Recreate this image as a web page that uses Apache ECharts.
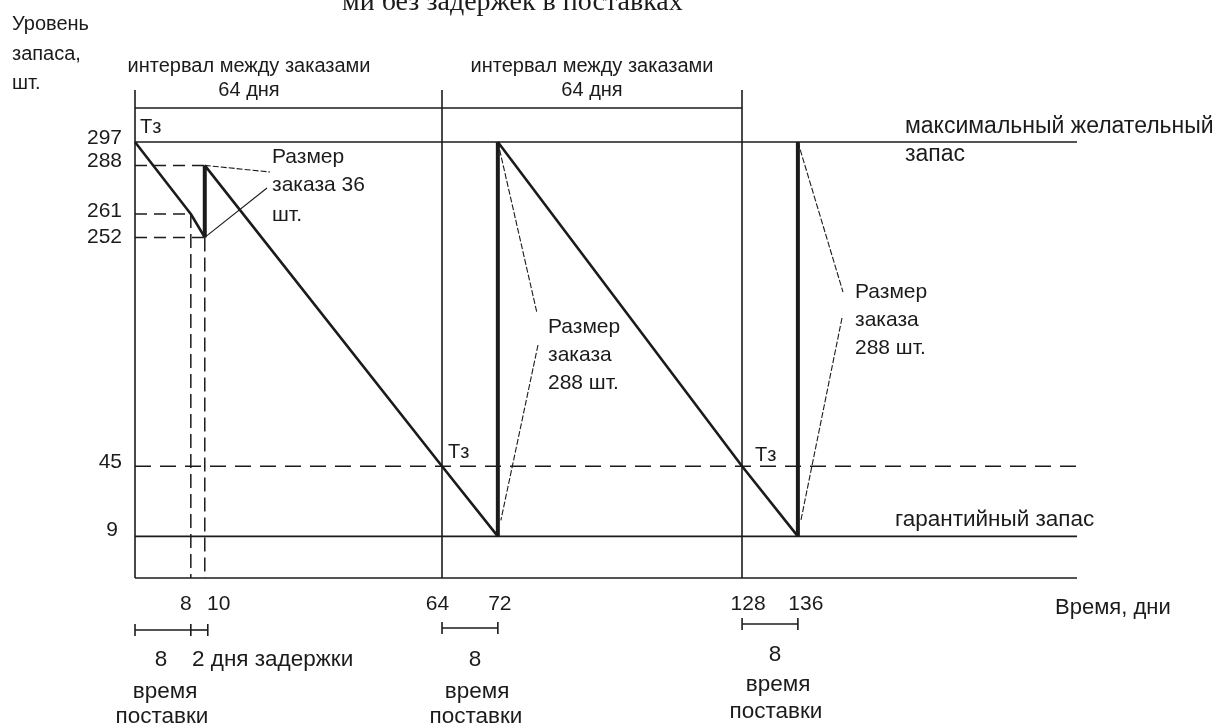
<!DOCTYPE html>
<html><head><meta charset="utf-8">
<script src="https://cdn.jsdelivr.net/npm/echarts@6/dist/echarts.min.js"></script>
<style>html,body{margin:0;padding:0;background:#fff}#c{width:1228px;height:727px}</style>
</head><body><div id="c"></div><script>
// ---------- data ----------
const cycle1Days = [0, 8, 10],    cycle1Stock = [297, 261, 252];
const cycle2Days = [10, 64, 72],  cycle2Stock = [288, 45, 9];
const cycle3Days = [72, 128, 136], cycle3Stock = [297, 45, 9];
const orderDays = [10, 72, 136], orderFromStock = [252, 9, 9], orderToStock = [288, 297, 297];
const maxStock = 297, reorderLevel = 45, safetyStock = 9;
const orderPlacedDays = [64, 128];
const xTickLabels = [8, 10, 64, 72, 128, 136];
const yTickLabels = [297, 288, 261, 252, 45, 9];
const deliverySpans = [[0, 8], [64, 72], [128, 136]];
const delaySpan = [8, 10];

// ---------- layout / style ----------
const X_MIN = 0, X_MAX = 176, Y_MIN = -7, Y_MAX = 317, BRACKET_LEVEL = 310;
const INK = '#1b1b1b', FONT = 'Liberation Sans, Arial, sans-serif';
// label nudges (padding) to mimic the hand-drawn label placement
const xLabelPad = { 8: [0, 10, 0, 0], 10: [0, 0, 0, 28], 64: [0, 9, 0, 0], 72: [0, 0, 0, 4], 128: [0, 0, 0, 12], 136: [0, 0, 0, 16] };
const yLabelPad = { 297: [0, 0, 8, 0], 288: [0, 0, 8, 0], 261: [0, 0, 6, 0], 252: [0, 0, 0, 0], 45: [0, 0, 8, 0], 9: [0, 4, 12, 0] };

function pairs(xs, ys) { return xs.map((x, i) => [x, ys[i]]); }
function lineSeries(data, width, type) {
  return { type: 'line', data, symbol: 'none', silent: true, animation: false, z: 3, clip: false,
    lineStyle: { color: INK, width, type: type || 'solid' } };
}

const series = [];
// axis lines (drawn as series so they stay continuous across the axis breaks)
series.push(lineSeries([[X_MIN, Y_MIN], [X_MAX, Y_MIN]], 1.6));
series.push(lineSeries([[X_MIN, Y_MIN], [X_MIN, Y_MAX]], 1.6));
const maxSeries = lineSeries([[X_MIN, maxStock], [X_MAX, maxStock]], 1.6);
maxSeries.markLine = {
  symbol: 'none', silent: true, animation: false, label: { show: false },
  lineStyle: { color: INK, width: 1.6, type: 'solid' },
  data: [
    { xAxis: orderPlacedDays[0] }, { xAxis: orderPlacedDays[1] },
    [{ coord: [X_MIN, BRACKET_LEVEL] }, { coord: [orderPlacedDays[1], BRACKET_LEVEL] }]
  ]
};
series.push(maxSeries);
series.push(lineSeries([[X_MIN, safetyStock], [X_MAX, safetyStock]], 1.6));
series.push(lineSeries([[X_MIN, reorderLevel], [X_MAX, reorderLevel]], 1.5, [16, 9]));
[pairs(cycle1Days, cycle1Stock), pairs(cycle2Days, cycle2Stock), pairs(cycle3Days, cycle3Stock)]
  .forEach(d => series.push(lineSeries(d, 2.6)));
orderDays.forEach((d, i) => series.push(lineSeries([[d, orderFromStock[i]], [d, orderToStock[i]]], 4)));
// guide dashes
series.push(lineSeries([[X_MIN, orderToStock[0]], [orderDays[0], orderToStock[0]]], 1.5, [12, 7]));
series.push(lineSeries([[X_MIN, cycle1Stock[1]], [cycle1Days[1], cycle1Stock[1]]], 1.5, [12, 7]));
series.push(lineSeries([[X_MIN, cycle1Stock[2]], [cycle1Days[2], cycle1Stock[2]]], 1.5, [12, 7]));
series.push(lineSeries([[cycle1Days[1], cycle1Stock[1]], [cycle1Days[1], Y_MIN]], 1.5, [14, 6]));
series.push(lineSeries([[cycle1Days[2], cycle1Stock[2]], [cycle1Days[2], Y_MIN]], 1.5, [14, 6]));

const breakArea = { show: false, itemStyle: { opacity: 0, borderWidth: 0 }, zigzagAmplitude: 0 };
function richFor(pads) {
  const r = {};
  Object.keys(pads).forEach(k => { r['v' + k] = { padding: pads[k], fontSize: 21, fontFamily: FONT, color: INK }; });
  return r;
}
const option = {
  backgroundColor: '#fff',
  animation: false,
  grid: { left: 135, right: 151, top: 90, bottom: 149, containLabel: false, outerBoundsMode: 'none' },
  xAxis: {
    type: 'value', min: X_MIN, max: X_MAX,
    breaks: [{ start: 12, end: 62, gap: 30 }, { start: 74, end: 126, gap: 31 }],
    breakArea,
    axisLine: { show: false },
    axisTick: { show: false }, splitLine: { show: false },
    axisLabel: { customValues: xTickLabels, hideOverlap: false, color: INK, fontFamily: FONT, fontSize: 21, margin: 16,
      formatter: v => '{v' + v + '|' + v + '}', rich: richFor(xLabelPad) }
  },
  yAxis: {
    type: 'value', min: Y_MIN, max: Y_MAX,
    breaks: [{ start: 12, end: 42, gap: 21 }, { start: 60, end: 240, gap: 61 }, { start: 264, end: 285, gap: 12.7 }],
    breakArea,
    axisLine: { show: false },
    axisTick: { show: false }, splitLine: { show: false },
    axisLabel: { customValues: yTickLabels, hideOverlap: false, color: INK, fontFamily: FONT, fontSize: 21, margin: 13,
      formatter: v => '{v' + v + '|' + v + '}', rich: richFor(yLabelPad) }
  },
  series
};

const chart = echarts.init(document.getElementById('c'));
chart.setOption(option);

// ---------- annotations ----------
const P = (x, y) => chart.convertToPixel({ gridIndex: 0 }, [x, y]);
function txt(text, x, y, align, size, extra) {
  return Object.assign({ type: 'text', x, y, silent: true, z: 10,
    style: Object.assign({ text, fill: INK, font: (size || 20) + 'px ' + FONT, textAlign: align || 'left', textVerticalAlign: 'middle' }, extra || {}) });
}
function ln(a, b, w, dash) {
  return { type: 'line', silent: true, z: 9, shape: { x1: a[0], y1: a[1], x2: b[0], y2: b[1] },
    style: { stroke: INK, lineWidth: w || 1.2, lineDash: dash || null } };
}
const g = [];
g.push(txt('ми без задержек в поставках', 342, 3, 'left', 28, { font: '28px Liberation Serif, Times New Roman, serif' }));
g.push(txt('Уровень', 12, 24)); g.push(txt('запаса,', 12, 54)); g.push(txt('шт.', 12, 83));
g.push(txt('интервал между заказами', 249, 66, 'center')); g.push(txt('64 дня', 249, 90, 'center'));
g.push(txt('интервал между заказами', 592, 66, 'center')); g.push(txt('64 дня', 592, 90, 'center'));
g.push(txt('Тз', 140, 127)); g.push(txt('Тз', 448, 452)); g.push(txt('Тз', 755, 455));
g.push(txt('максимальный желательный', 905, 127, 'left', 23)); g.push(txt('запас', 905, 155, 'left', 23));
g.push(txt('гарантийный запас', 895, 520, 'left', 22.5));
g.push(txt('Время, дни', 1055, 608, 'left', 22));
g.push(txt('Размер', 272, 157, 'left', 21)); g.push(txt('заказа 36', 272, 185, 'left', 21)); g.push(txt('шт.', 272, 215, 'left', 21));
g.push(txt('Размер', 548, 327, 'left', 21)); g.push(txt('заказа', 548, 355, 'left', 21)); g.push(txt('288 шт.', 548, 383, 'left', 21));
g.push(txt('Размер', 855, 292, 'left', 21)); g.push(txt('заказа', 855, 320, 'left', 21)); g.push(txt('288 шт.', 855, 348, 'left', 21));
// leader lines
const dash = [6, 2];
g.push(ln(P(orderDays[0], orderToStock[0]), [270, 172], 1.1, dash));
g.push(ln(P(orderDays[0], orderFromStock[0]), [267, 188], 1.1));
g.push(ln(P(orderDays[1], orderToStock[1]), [537, 313], 1.1, dash));
const b2 = P(orderDays[1], orderFromStock[1]);
g.push(ln([538, 345], [b2[0] + 3, b2[1] - 16], 1.1, dash));
g.push(ln(P(orderDays[2], orderToStock[2]), [843, 292], 1.1, dash));
const b3 = P(orderDays[2], orderFromStock[2]);
g.push(ln([842, 318], [b3[0] + 3, b3[1] - 16], 1.1, dash));
// delivery brackets
const bracketY = [630, 628, 624];
deliverySpans.forEach((s, i) => {
  const a = P(s[0], 0)[0], b = P(s[1], 0)[0], y = bracketY[i];
  g.push(ln([a, y], [b, y], 1.6)); g.push(ln([a, y - 6], [a, y + 6], 1.6)); g.push(ln([b, y - 6], [b, y + 6], 1.6));
});
{
  const a = P(delaySpan[0], 0)[0], b = P(delaySpan[1], 0)[0] + 3, y = bracketY[0];
  g.push(ln([a, y], [b, y], 1.6)); g.push(ln([b, y - 6], [b, y + 6], 1.6));
}
const BS = 22.5;
g.push(txt('8', 161, 660, 'center', BS)); g.push(txt('2 дня задержки', 192, 660, 'left', BS));
g.push(txt('время', 165, 692, 'center', BS)); g.push(txt('поставки', 162, 717, 'center', BS));
g.push(txt('8', 475, 660, 'center', BS)); g.push(txt('время', 477, 692, 'center', BS)); g.push(txt('поставки', 476, 717, 'center', BS));
g.push(txt('8', 775, 655, 'center', BS)); g.push(txt('время', 778, 685, 'center', BS)); g.push(txt('поставки', 776, 712, 'center', BS));
chart.setOption({ graphic: g });
</script></body></html>
